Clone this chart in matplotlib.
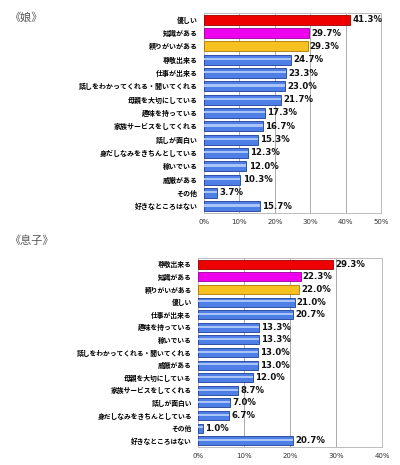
import matplotlib
matplotlib.use("Agg")
import matplotlib.pyplot as plt

plt.rcParams['font.family'] = ['Noto Sans CJK JP', 'DejaVu Sans']

daughter_labels = ["優しい", "知識がある", "頼りがいがある", "尊敬出来る", "仕事が出来る",
                   "話しをわかってくれる・聞いてくれる", "母親を大切にしている", "趣味を持っている",
                   "家族サービスをしてくれる", "話しが面白い", "身だしなみをきちんとしている",
                   "稼いでいる", "威厳がある", "その他", "好きなところはない"]
daughter_values = [41.3, 29.7, 29.3, 24.7, 23.3, 23.0, 21.7, 17.3, 16.7, 15.3, 12.3, 12.0, 10.3, 3.7, 15.7]

son_labels = ["尊敬出来る", "知識がある", "頼りがいがある", "優しい", "仕事が出来る",
              "趣味を持っている", "稼いでいる", "話しをわかってくれる・聞いてくれる", "威厳がある",
              "母親を大切にしている", "家族サービスをしてくれる", "話しが面白い",
              "身だしなみをきちんとしている", "その他", "好きなところはない"]
son_values = [29.3, 22.3, 22.0, 21.0, 20.7, 13.3, 13.3, 13.0, 13.0, 12.0, 8.7, 7.0, 6.7, 1.0, 20.7]

daughter_ticks = [0, 10, 20, 30, 40, 50]
son_ticks = [0, 10, 20, 30, 40]

top_colors = ["#ee0000", "#ee00ee", "#f5c020"]
blue = "#4d7fe6"
blue_edge = "#1f3f99"
blue_light = "#a9c4f5"

fig = plt.figure(figsize=(4.0, 4.65), dpi=100)


def draw(ax, labels, values, ticks, height, fs):
    n = len(labels)
    ys = list(range(n))
    colors = [top_colors[i] if i < 3 else blue for i in range(n)]
    edges = ["#990000", "#990099", "#aa7700"] + [blue_edge] * (n - 3)
    ax.barh(ys, values, height=height, color=colors, edgecolor=edges, linewidth=0.6, zorder=3)
    # light stripe on the blue bars
    stripe_vals = [v if i >= 3 else 0 for i, v in enumerate(values)]
    ax.barh([y - height * 0.08 for y in ys], stripe_vals, height=height * 0.22,
            color=blue_light, linewidth=0, zorder=4)
    for y, v in zip(ys, values):
        ax.text(v + ticks[-1] * 0.012, y, f"{v:.1f}%", va="center", ha="left",
                fontsize=6.2, fontweight="bold", color="#111111", zorder=5,
                family=['DejaVu Sans'])
    ax.set_yticks(ys)
    ax.set_yticklabels(labels, fontsize=fs, fontweight="bold")
    ax.set_ylim(n - 0.5, -0.5)
    ax.set_xlim(ticks[0], ticks[-1])
    ax.set_xticks(ticks)
    ax.set_xticklabels([f"{t}%" for t in ticks], fontsize=5, color="#333333",
                       family=['DejaVu Sans'])
    ax.xaxis.grid(True, color="#aaaaaa", linewidth=0.7, zorder=0)
    ax.tick_params(axis="y", length=0, pad=4.5)
    ax.tick_params(axis="x", length=0, pad=4)
    for s in ax.spines.values():
        s.set_color("#bbbbbb")
        s.set_linewidth(0.7)


ax1 = fig.add_axes([0.51, 0.542, 0.4425, 0.430])
draw(ax1, daughter_labels, daughter_values, daughter_ticks, 0.74, 5.0)
fig.text(0.022, 0.962, "《娘》", fontsize=8, color="#555555", va="center", ha="left")

ax2 = fig.add_axes([0.495, 0.0387, 0.46, 0.4065])
draw(ax2, son_labels, son_values, son_ticks, 0.72, 4.9)
fig.text(0.022, 0.482, "《息子》", fontsize=8, color="#555555", va="center", ha="left")

fig.savefig("out.png", dpi=100, facecolor="white")
